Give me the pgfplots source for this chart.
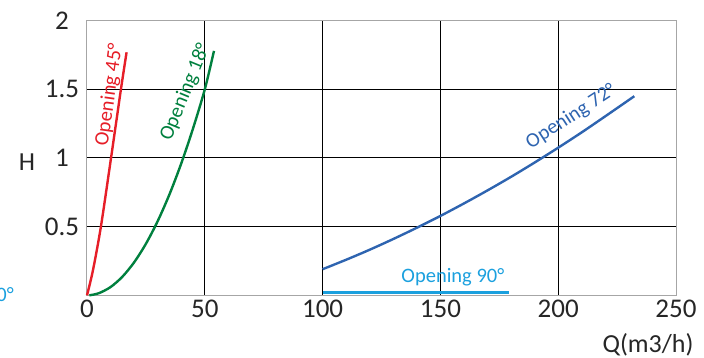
\documentclass[border=0pt]{standalone}
\usepackage{pgfplots}
\pgfplotsset{compat=1.18}
\usepackage{fontspec}
\setmainfont{Carlito}
\definecolor{cred}{RGB}{230,30,40}
\definecolor{cgreen}{RGB}{0,128,62}
\definecolor{cblue}{RGB}{46,100,176}
\definecolor{clight}{RGB}{27,160,222}
\begin{document}
\begin{tikzpicture}[x=1pt,y=1pt]
\path[use as bounding box] (0,0) rectangle (704,358);
\begin{axis}[
  at={(87pt,62.7pt)}, anchor=south west,
  scale only axis, width=589pt, height=274.6pt,
  xmin=0, xmax=250, ymin=0, ymax=2,
  xtick={0,50,...,250}, ytick={0.5,1,1.5,2},
  major tick length=0pt,
  grid=major,
  major grid style={black, line width=1pt},
  axis line style={gray!70, line width=1pt},
  /pgf/number format/assume math mode=true,
  ticklabel style={font=\fontsize{27}{30}\selectfont, text=black!85},
  xticklabel style={yshift=-1pt},
  yticklabel style={anchor=center, xshift=-25pt},
  clip=false,
]
\draw[black, line width=1.7pt] (axis cs:0,0.5) -- (axis cs:250,0.5);
% Opening 45
\addplot[cred, line width=2.4pt, smooth] coordinates {
(0,0) (2.5,0.18) (5.9,0.5) (10.2,1) (14.4,1.5) (16.8,1.77)};
% Opening 18
\addplot[cgreen, line width=2.4pt, smooth] coordinates {
(1,0) (5,0.015) (10,0.06) (15,0.135) (20,0.24) (25,0.375) (30,0.54) (35,0.735) (40,0.96) (45,1.215) (50,1.5) (53.9,1.78)};
% Opening 72
\addplot[cblue, line width=2.4pt, smooth] coordinates {
(100,0.19) (110,0.259) (120,0.332) (130,0.41) (140,0.492) (150,0.578) (160,0.669) (170,0.764) (180,0.863) (190,0.967) (200,1.075) (210,1.187) (220,1.304) (232.3,1.45)};
% Opening 90
\addplot[clight, line width=3pt] coordinates {(100,0.024) (179.2,0.024)};
\node[cred, rotate=82, font=\fontsize{20.5}{24}\selectfont] at (axis cs:9.6,1.46) {Opening 45°};
\node[cgreen, rotate=67.6, font=\fontsize{20.5}{24}\selectfont] at (axis cs:41.8,1.48) {Opening 18°};
\node[cblue, rotate=33, font=\fontsize{20.5}{24}\selectfont] at (axis cs:205.5,1.30) {Opening 72°};
\node[clight, font=\fontsize{20.5}{24}\selectfont] at (axis cs:155.3,0.13) {Opening 90°};
\node[clight, anchor=east, inner sep=0pt, font=\fontsize{20.5}{24}\selectfont] at (axis cs:-31,-0.005) {Opening 0°};
\node[font=\fontsize{26}{30}\selectfont, text=black!85] at (axis cs:238.1,0) [yshift=-49pt] {Q(m3/h)};
\node[font=\fontsize{26}{30}\selectfont, text=black!85] at (axis cs:0,0.97) [xshift=-60pt] {H};
\end{axis}
\end{tikzpicture}
\end{document}
